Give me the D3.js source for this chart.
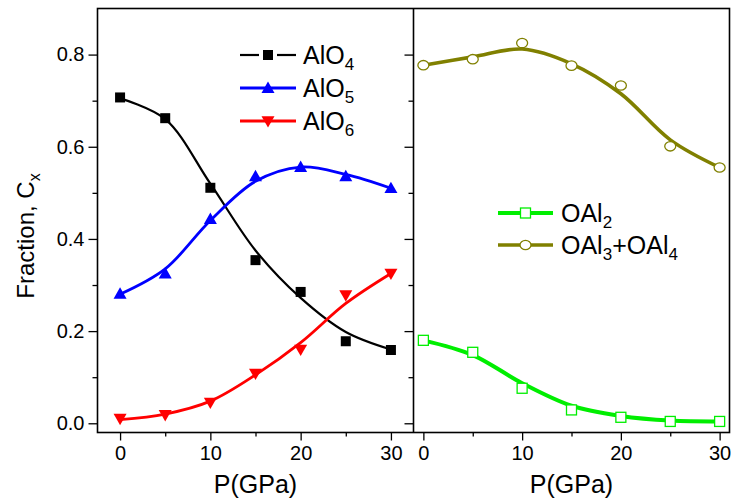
<!DOCTYPE html>
<html>
<head>
<meta charset="utf-8">
<script src="https://cdn.jsdelivr.net/npm/d3@7"></script>
<style>
  body { margin: 0; background: #fff; }
  svg { font-family: Arial, "Liberation Sans", sans-serif; }
</style>
</head>
<body>
<svg id="chart" width="732" height="499"></svg>
<script>
// pressure grid (GPa)
var pressure = [0, 5, 10, 15, 20, 25, 30];

// measured fractions (markers)
var alo4 = [0.707, 0.662, 0.511, 0.354, 0.285, 0.178, 0.159];
var alo5 = [0.281, 0.325, 0.443, 0.536, 0.556, 0.536, 0.510];
var alo6 = [0.010, 0.018, 0.045, 0.108, 0.160, 0.278, 0.325];
var oal2 = [0.180, 0.154, 0.076, 0.029, 0.013, 0.004, 0.004];
var oal34 = [0.777, 0.790, 0.825, 0.776, 0.733, 0.601, 0.555];

// fitted curves at the same pressures
var alo4Fit = [0.705, 0.660, 0.520, 0.375, 0.272, 0.198, 0.160];
var alo5Fit = [0.280, 0.335, 0.440, 0.525, 0.556, 0.540, 0.510];
var alo6Fit = [0.008, 0.020, 0.048, 0.105, 0.175, 0.260, 0.325];
var oal2Fit = [0.180, 0.148, 0.087, 0.038, 0.016, 0.006, 0.004];
var oal34Fit = [0.777, 0.795, 0.812, 0.780, 0.715, 0.615, 0.555];

var xTicks = [0, 10, 20, 30];
var xMinor = [5, 15, 25];
var yTicks = [0, 0.2, 0.4, 0.6, 0.8];
var yMinor = [0.1, 0.3, 0.5, 0.7];

(function() {
var svg = d3.select("#chart");

// frame
var pLeft = 97.5, pMid = 413.5, pRight = 729.5, pTop = 8.5, pBottom = 432.5;

var xL = d3.scaleLinear().domain([-2.5, 32.5]).range([pLeft, pMid]);
var xR = d3.scaleLinear().domain([-1, 31]).range([pMid, pRight]);
var y = d3.scaleLinear().domain([-0.02, 0.9]).range([pBottom, pTop]);

var tickFont = "20px";

function styleAxis(g) {
    g.select(".domain").remove();
    g.selectAll("line").attr("stroke", "#000").attr("stroke-width", 1.3);
    g.selectAll("text").attr("fill", "#000").style("font-size", tickFont)
        .style("font-family", "Arial, 'Liberation Sans', sans-serif");
}

// left y axis
svg.append("g").attr("transform", "translate(" + pLeft + ",0)")
    .call(d3.axisLeft(y).tickValues(yTicks).tickFormat(d3.format(".1f")).tickSize(9).tickPadding(4))
    .call(styleAxis);
svg.append("g").attr("transform", "translate(" + pLeft + ",0)")
    .call(d3.axisLeft(y).tickValues(yMinor).tickFormat("").tickSize(5))
    .call(styleAxis);

// ticks on the divider (right panel's y axis)
svg.append("g").attr("transform", "translate(" + pMid + ",0)")
    .call(d3.axisLeft(y).tickValues(yTicks).tickFormat("").tickSize(9))
    .call(styleAxis);
svg.append("g").attr("transform", "translate(" + pMid + ",0)")
    .call(d3.axisLeft(y).tickValues(yMinor).tickFormat("").tickSize(5))
    .call(styleAxis);

// x axes
[xL, xR].forEach(function(x) {
    svg.append("g").attr("transform", "translate(0," + pBottom + ")")
        .call(d3.axisBottom(x).tickValues(xTicks).tickSize(8).tickPadding(5))
        .call(styleAxis);
    svg.append("g").attr("transform", "translate(0," + pBottom + ")")
        .call(d3.axisBottom(x).tickValues(xMinor).tickFormat("").tickSize(4))
        .call(styleAxis);
});

// frame lines
svg.append("rect")
    .attr("x", pLeft).attr("y", pTop)
    .attr("width", pRight - pLeft).attr("height", pBottom - pTop)
    .attr("fill", "none").attr("stroke", "#000").attr("stroke-width", 1.6);
svg.append("line")
    .attr("x1", pMid).attr("x2", pMid).attr("y1", pTop).attr("y2", pBottom)
    .attr("stroke", "#000").attr("stroke-width", 1.6);

// axis titles
svg.append("text").attr("x", (pLeft + pMid) / 2).attr("y", 493)
    .attr("text-anchor", "middle").style("font-size", "25px").text("P(GPa)");
svg.append("text").attr("x", (pMid + pRight) / 2).attr("y", 493)
    .attr("text-anchor", "middle").style("font-size", "25px").text("P(GPa)");

var yl = svg.append("text")
    .attr("transform", "translate(34,236) rotate(-90)")
    .attr("text-anchor", "middle").style("font-size", "24px");
yl.append("tspan").text("Fraction, C");
yl.append("tspan").attr("dy", 6).style("font-size", "16px").text("x");

// series
var series = [
    { x: xL, vals: alo4, fit: alo4Fit, color: "#000000", width: 2.2, marker: "square", fill: "#000000", size: 10 },
    { x: xL, vals: alo5, fit: alo5Fit, color: "#0000ff", width: 2.8, marker: "up", fill: "#0000ff", size: 13 },
    { x: xL, vals: alo6, fit: alo6Fit, color: "#ff0000", width: 2.8, marker: "down", fill: "#ff0000", size: 13 },
    { x: xR, vals: oal2, fit: oal2Fit, color: "#00ee00", width: 4, marker: "osquare", fill: "#fff", size: 10 },
    { x: xR, vals: oal34, fit: oal34Fit, color: "#808000", width: 3.6, marker: "circle", fill: "#fff", size: 11 }
];

function drawMarker(g, s, cx, cy) {
    var h = s.size / 2;
    if (s.marker === "square" || s.marker === "osquare") {
        g.append("rect").attr("x", cx - h).attr("y", cy - h)
            .attr("width", s.size).attr("height", s.size)
            .attr("fill", s.fill).attr("stroke", s.color)
            .attr("stroke-width", s.marker === "osquare" ? 1.3 : 0);
    } else if (s.marker === "up") {
        g.append("path").attr("d", "M" + cx + "," + (cy - h) + "L" + (cx + h) + "," + (cy + h * 0.75) + "L" + (cx - h) + "," + (cy + h * 0.75) + "Z")
            .attr("fill", s.fill);
    } else if (s.marker === "down") {
        g.append("path").attr("d", "M" + cx + "," + (cy + h) + "L" + (cx + h) + "," + (cy - h * 0.75) + "L" + (cx - h) + "," + (cy - h * 0.75) + "Z")
            .attr("fill", s.fill);
    } else {
        g.append("ellipse").attr("cx", cx).attr("cy", cy).attr("rx", h).attr("ry", h * 0.85)
            .attr("fill", s.fill).attr("stroke", s.color).attr("stroke-width", 1.3);
    }
}

series.forEach(function(s) {
    var line = d3.line()
        .x(function(d, i) { return s.x(pressure[i]); })
        .y(function(d) { return y(d); })
        .curve(d3.curveCatmullRom.alpha(0.5));
    svg.append("path").datum(s.fit)
        .attr("d", line)
        .attr("fill", "none").attr("stroke", s.color).attr("stroke-width", s.width);
    var g = svg.append("g");
    s.vals.forEach(function(v, i) { drawMarker(g, s, s.x(pressure[i]), y(v)); });
});

// legends
function legendRow(s, x0, x1, yy, tx, label) {
    var g = svg.append("g");
    var xm = (x0 + x1) / 2;
    if (s.marker === "square") {
        g.append("line").attr("x1", x0).attr("x2", xm - 9).attr("y1", yy).attr("y2", yy)
            .attr("stroke", s.color).attr("stroke-width", s.width);
        g.append("line").attr("x1", xm + 9).attr("x2", x1).attr("y1", yy).attr("y2", yy)
            .attr("stroke", s.color).attr("stroke-width", s.width);
    } else {
        g.append("line").attr("x1", x0).attr("x2", x1).attr("y1", yy).attr("y2", yy)
            .attr("stroke", s.color).attr("stroke-width", s.width);
    }
    drawMarker(g, s, xm, yy);
    var t = g.append("text").attr("x", tx).attr("y", yy + 9).style("font-size", "25px");
    label.forEach(function(p) {
        if (p.sub) {
            t.append("tspan").attr("dy", 6).style("font-size", "17px").text(p.t);
        } else {
            t.append("tspan").attr("dy", p.up ? -6 : 0).text(p.t);
        }
    });
}

legendRow(series[0], 240, 296, 55, 303, [{ t: "AlO" }, { t: "4", sub: true }]);
legendRow(series[1], 240, 296, 88, 303, [{ t: "AlO" }, { t: "5", sub: true }]);
legendRow(series[2], 240, 296, 121, 303, [{ t: "AlO" }, { t: "6", sub: true }]);
legendRow(series[3], 498, 553, 213, 561, [{ t: "OAl" }, { t: "2", sub: true }]);
legendRow(series[4], 498, 553, 245, 561, [{ t: "OAl" }, { t: "3", sub: true }, { t: "+OAl", up: true }, { t: "4", sub: true }]);
})();
</script>
</body>
</html>
